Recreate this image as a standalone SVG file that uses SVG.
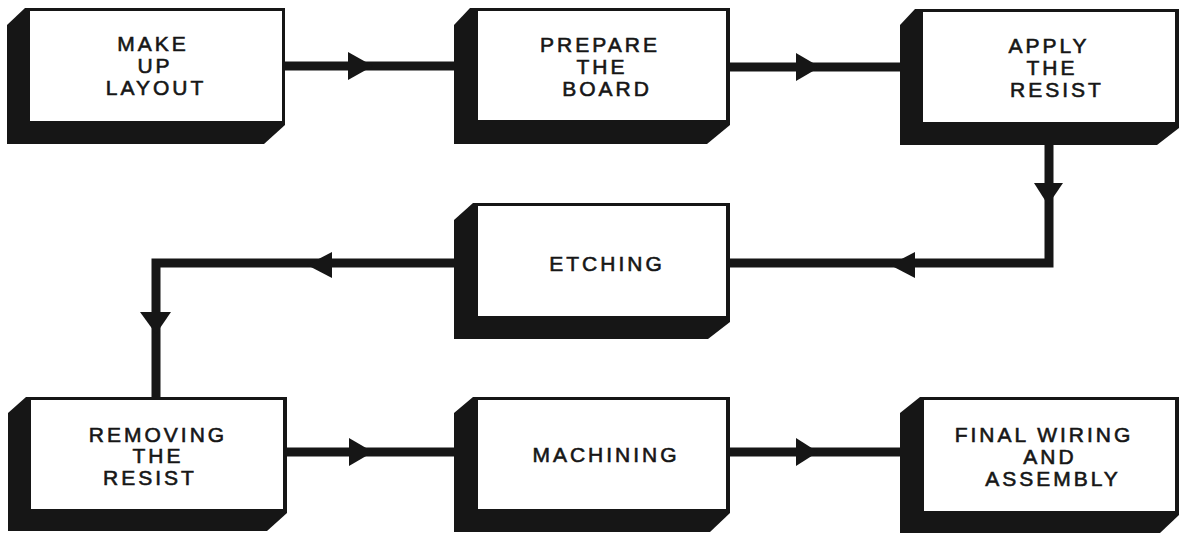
<svg xmlns="http://www.w3.org/2000/svg" width="1183" height="533" viewBox="0 0 1183 533">
<style>
.sh{fill:#161616}
.fr{fill:#fff;stroke:#161616;stroke-width:3}
.ln{fill:none;stroke:#161616;stroke-width:9;stroke-linejoin:miter;stroke-linecap:butt}
.ah{fill:#161616}
text{font-family:"Liberation Sans","DejaVu Sans",Arial,sans-serif;font-size:21px;letter-spacing:3px;fill:#161616;stroke:#161616;stroke-width:0.6;text-anchor:middle}
</style>
<rect width="1183" height="533" fill="#fff"/>
<g id="connectors">
<polyline class="ln" points="285,66 454,66"/>
<polygon class="ah" points="348,52 373,66 348,80"/>
<polyline class="ln" points="728,67 900,67"/>
<polygon class="ah" points="796,53 820,67 796,81"/>
<polyline class="ln" points="1049,145 1049,263 728,263"/>
<polygon class="ah" points="1034,183 1063,183 1048,205"/>
<polygon class="ah" points="890,265 915,252 915,278"/>
<polyline class="ln" points="454,263 156,263 156,398"/>
<polygon class="ah" points="307,265 332,252 332,278"/>
<polygon class="ah" points="140,312 171,312 156,334"/>
<polyline class="ln" points="285,452 454,452"/>
<polygon class="ah" points="349,438 373,452 349,466"/>
<polyline class="ln" points="728,452 900,452"/>
<polygon class="ah" points="796,438 818,452 796,466"/>
</g>
<g id="n1">
<polygon class="sh" points="7,25 25,8 285,8 285,125 264,144 7,144"/>
<rect class="fr" x="28.5" y="9.5" width="255" height="113"/>
<text x="153" y="51">MAKE</text>
<text x="155" y="73">UP</text>
<text x="156" y="95">LAYOUT</text>
</g>
<g id="n2">
<polygon class="sh" points="454,25 470,8 730,8 730,125 707,144 454,144"/>
<rect class="fr" x="476.5" y="9.5" width="251" height="112"/>
<text x="600" y="52">PREPARE</text>
<text x="602" y="74">THE</text>
<text x="607" y="96">BOARD</text>
</g>
<g id="n3">
<polygon class="sh" points="900,25 915,9 1179,9 1179,128 1157,145 900,145"/>
<rect class="fr" x="921.5" y="10.5" width="255" height="113"/>
<text x="1049" y="53">APPLY</text>
<text x="1052" y="75">THE</text>
<text x="1057" y="97">RESIST</text>
</g>
<g id="n4">
<polygon class="sh" points="454,220 473,203 730,203 730,322 708,339 454,339"/>
<rect class="fr" x="476.5" y="204.5" width="251" height="113"/>
<text x="607" y="271">ETCHING</text>
</g>
<g id="n5">
<polygon class="sh" points="8,413 26,397 287,397 287,513 267,531 8,531"/>
<rect class="fr" x="29.5" y="398.5" width="255" height="112"/>
<text x="158" y="442">REMOVING</text>
<text x="158" y="463">THE</text>
<text x="150" y="485">RESIST</text>
</g>
<g id="n6">
<polygon class="sh" points="454,413 473,397 730,397 730,513 710,532 454,532"/>
<rect class="fr" x="476.5" y="398.5" width="251" height="112"/>
<text x="606" y="462">MACHINING</text>
</g>
<g id="n7">
<polygon class="sh" points="900,413 920,397 1179,397 1179,515 1160,533 900,533"/>
<rect class="fr" x="922.5" y="398.5" width="254" height="114"/>
<text x="1044" y="442">FINAL WIRING</text>
<text x="1050" y="464">AND</text>
<text x="1053" y="486">ASSEMBLY</text>
</g>
</svg>
